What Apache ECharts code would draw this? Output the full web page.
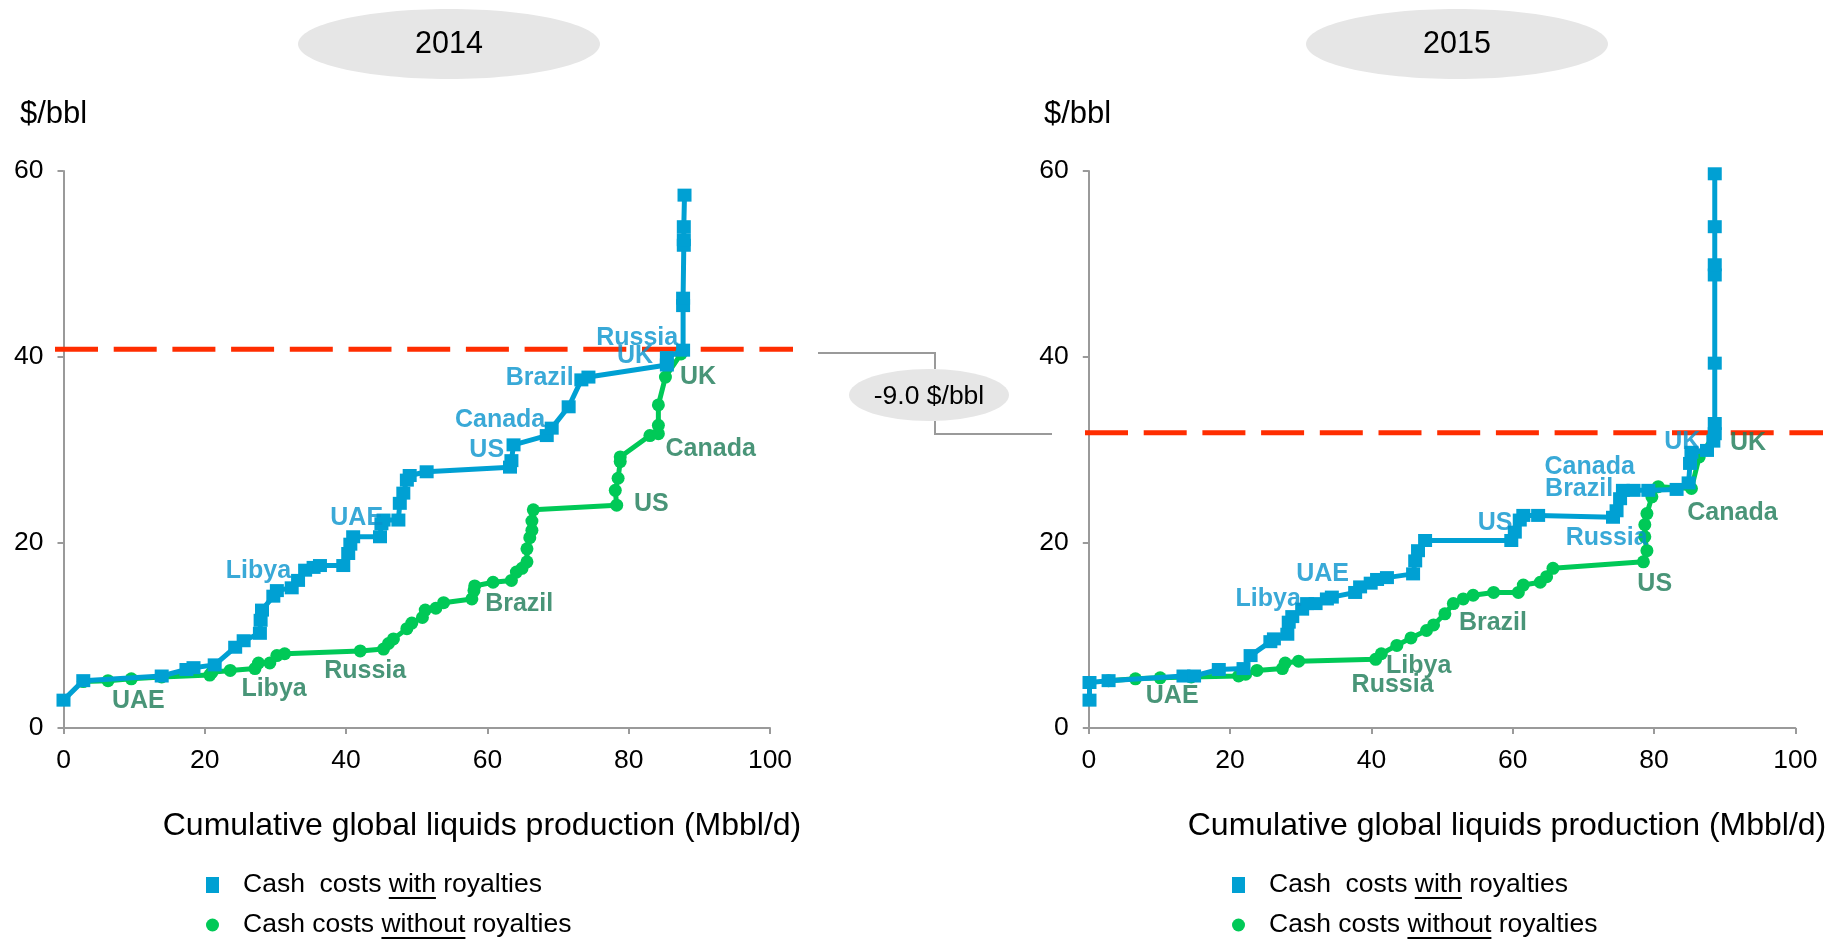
<!DOCTYPE html>
<html>
<head>
<meta charset="utf-8">
<script src="https://cdn.jsdelivr.net/npm/echarts@6/dist/echarts.min.js"></script>
<style>
  html, body { margin: 0; padding: 0; background: #ffffff; }
  #chart { width: 1843px; height: 940px; }
</style>
</head>
<body>
<div id="chart"></div>
<script>
// Cash cost curves: cumulative liquids production (Mbbl/d) vs cash cost ($/bbl)
const years = ['2014', '2015'];
const xTicks = [0, 20, 40, 60, 80, 100];
const yTicks = [0, 20, 40, 60];

// 2014 – cash costs with royalties [cumulative Mbbl/d, $/bbl]
const withRoyalties2014 = [
  [0, 3.0], [2.8, 5.1], [13.9, 5.6], [17.4, 6.3], [18.4, 6.5], [21.4, 6.8], [24.3, 8.7],
  [25.5, 9.4], [27.8, 10.2], [27.9, 11.6], [28.1, 12.7], [29.7, 14.2], [30.2, 14.8],
  [32.3, 15.1], [33.2, 15.9], [34.2, 17.0], [35.4, 17.3], [36.3, 17.5], [39.6, 17.5],
  [40.3, 18.8], [40.6, 19.8], [41.0, 20.6], [44.8, 20.6], [45.0, 22.0], [45.3, 22.4],
  [47.4, 22.4], [47.6, 24.2], [48.1, 25.3], [48.6, 26.7], [49.0, 27.2], [51.4, 27.6],
  [63.2, 28.1], [63.4, 28.8], [63.7, 30.5], [68.4, 31.5], [69.1, 32.3], [71.5, 34.6],
  [73.3, 37.5], [74.3, 37.8], [85.4, 39.1], [85.4, 39.9], [87.7, 40.7], [87.7, 45.5],
  [87.7, 46.3], [87.8, 52.0], [87.8, 52.6], [87.8, 54.0], [87.9, 57.4]
];
// 2014 – cash costs without royalties
const withoutRoyalties2014 = [
  [2.8, 5.0], [6.3, 5.1], [9.6, 5.3], [13.9, 5.5], [20.7, 5.7], [21.0, 6.0], [23.6, 6.2],
  [27.1, 6.4], [27.6, 7.0], [29.2, 7.0], [30.2, 7.8], [31.3, 8.0], [42.0, 8.3], [45.3, 8.5],
  [46.0, 9.1], [46.7, 9.6], [48.6, 10.7], [49.3, 11.3], [50.8, 11.9], [51.2, 12.7],
  [52.7, 12.9], [53.8, 13.5], [57.8, 13.9], [58.1, 14.8], [58.2, 15.3], [60.8, 15.7],
  [63.4, 15.9], [64.1, 16.8], [64.9, 17.2], [65.6, 17.9], [65.6, 19.3], [66.0, 20.5],
  [66.3, 21.3], [66.3, 22.3], [66.5, 23.5], [78.3, 24.0], [78.1, 25.6], [78.5, 26.9],
  [78.8, 28.7], [78.8, 29.2], [83.0, 31.5], [84.2, 31.7], [84.2, 32.6], [84.2, 34.8],
  [85.2, 37.8], [87.4, 40.3]
];
// 2015 – cash costs with royalties
const withRoyalties2015 = [
  [0.1, 3.0], [0.1, 4.9], [2.8, 5.1], [13.4, 5.6], [14.9, 5.6], [18.4, 6.3], [21.9, 6.4],
  [22.9, 7.8], [25.7, 9.3], [26.2, 9.6], [28.1, 10.1], [28.3, 11.4], [28.8, 12.0],
  [30.2, 12.8], [30.9, 13.4], [32.1, 13.4], [33.7, 13.9], [34.4, 14.1], [37.7, 14.6],
  [38.4, 15.2], [39.9, 15.6], [40.8, 16.0], [42.2, 16.2], [45.9, 16.6], [46.2, 18.0],
  [46.6, 19.1], [47.6, 20.2], [59.8, 20.2], [60.3, 21.1], [61.0, 22.4], [61.5, 22.9],
  [63.6, 22.9], [74.2, 22.7], [74.7, 23.4], [75.2, 24.7], [75.6, 25.6], [77.1, 25.6],
  [79.2, 25.6], [83.2, 25.7], [84.9, 26.4], [85.1, 28.5], [85.3, 29.7], [87.5, 29.9],
  [88.4, 30.9], [88.6, 31.7], [88.6, 32.8], [88.6, 39.3], [88.6, 48.8], [88.6, 49.9],
  [88.6, 54.0], [88.6, 59.7]
];
// 2015 – cash costs without royalties
const withoutRoyalties2015 = [
  [2.8, 5.1], [6.6, 5.3], [10.1, 5.4], [14.5, 5.5], [21.2, 5.6], [22.2, 5.8], [23.8, 6.2],
  [27.4, 6.4], [27.8, 7.0], [29.7, 7.2], [40.6, 7.4], [41.4, 8.0], [43.6, 8.9], [45.6, 9.7],
  [47.8, 10.5], [48.8, 11.1], [50.4, 12.3], [51.6, 13.4], [53.0, 13.9], [54.4, 14.3],
  [57.3, 14.6], [60.8, 14.6], [61.5, 15.4], [63.9, 15.7], [64.8, 16.3], [65.7, 17.2],
  [78.5, 17.9], [79.0, 19.1], [78.7, 20.6], [78.7, 21.9], [79.0, 23.1], [79.7, 24.9],
  [80.6, 26.0], [85.3, 25.8], [86.4, 29.2], [88.4, 31.4]
];

// Marginal cost reference level per year ($/bbl) and the change between them
const marginalCost = [40.8, 31.8];
const changeLabel = '-9.0 $/bbl';

// Country annotations [name, cumulative Mbbl/d, $/bbl]
const countriesWith2014 = [
  ['Libya', 27.6, 16.9], ['UAE', 41.5, 22.6], ['US', 59.9, 29.9], ['Canada', 61.8, 33.2],
  ['Brazil', 67.4, 37.7], ['UK', 80.9, 40.1], ['Russia', 81.2, 42.0]
];
const countriesWithout2014 = [
  ['UAE', 10.6, 2.9], ['Libya', 29.8, 4.2], ['Russia', 42.7, 6.1], ['Brazil', 64.5, 13.3],
  ['US', 83.2, 24.1], ['Canada', 91.6, 30.0], ['UK', 89.8, 37.8]
];
const countriesWith2015 = [
  ['Libya', 25.4, 13.9], ['UAE', 33.1, 16.6], ['US', 57.5, 22.1], ['Brazil', 69.4, 25.7],
  ['Canada', 70.9, 28.1], ['Russia', 73.3, 20.5], ['UK', 84.0, 30.8]
];
const countriesWithout2015 = [
  ['UAE', 11.8, 3.4], ['Russia', 43.0, 4.6], ['Libya', 46.7, 6.7], ['Brazil', 57.2, 11.3],
  ['US', 80.1, 15.5], ['Canada', 91.1, 23.2], ['UK', 93.3, 30.7]
];

const NAME_WITH = 'Cash  costs with royalties';
const NAME_WITHOUT = 'Cash costs without royalties';
const UNIT_Y = '$/bbl';
const TITLE_X = 'Cumulative global liquids production (Mbbl/d)';

// ---- styling ----
const FONT = '"Liberation Sans", Arial, Helvetica, sans-serif';
const BLUE = '#00a0d3';
const BLUE_TEXT = '#0894cd';
const GREEN = '#00c957';
const GREEN_TEXT = '#1b7b56';
const RED = '#ff2d00';
const AXIS_GREY = '#9a9a9a';
const PANEL_FILL = '#e6e6e6';

const panels = [
  { left: 63.5, refLeft: 55, legendLeft: 206, titleX: 482, unitX: 20, yearX: 449 },
  { left: 1088.8, refLeft: 1085, legendLeft: 1232, titleX: 1507, unitX: 1044, yearX: 1457 }
];
const PLOT_TOP = 171, PLOT_H = 557, PLOT_W = 706.5, REF_W = 738;

const grids = [], xAxes = [], yAxes = [];
panels.forEach((p, i) => {
  grids.push({ left: p.left, top: PLOT_TOP, width: PLOT_W, height: PLOT_H });
  xAxes.push({
    gridIndex: i, type: 'value', min: xTicks[0], max: xTicks[xTicks.length - 1],
    interval: xTicks[1] - xTicks[0],
    axisLine: { lineStyle: { color: AXIS_GREY, width: 2 } },
    axisTick: { show: true, length: 6, lineStyle: { color: AXIS_GREY, width: 2 } },
    axisLabel: { color: '#000', fontFamily: FONT, fontSize: 26.5, margin: 19 },
    splitLine: { show: false }
  });
  yAxes.push({
    gridIndex: i, type: 'value', min: yTicks[0], max: yTicks[yTicks.length - 1],
    interval: yTicks[1] - yTicks[0],
    axisLine: { show: true, lineStyle: { color: AXIS_GREY, width: 2 } },
    axisTick: { show: true, length: 6, lineStyle: { color: AXIS_GREY, width: 2 } },
    axisLabel: { color: '#000', fontFamily: FONT, fontSize: 26.5, margin: 20 },
    splitLine: { show: false }
  });
});
// Overlay grids carrying the dashed reference level, a little wider than the plots
panels.forEach((p, i) => {
  grids.push({ left: p.refLeft, top: PLOT_TOP, width: REF_W, height: PLOT_H });
  xAxes.push({ gridIndex: 2 + i, type: 'value', min: 0, max: 1, show: false });
  yAxes.push({ gridIndex: 2 + i, type: 'value', min: yTicks[0], max: yTicks[yTicks.length - 1], show: false });
});

function costLine(name, data, idx, isWith) {
  return {
    type: 'line', name, xAxisIndex: idx, yAxisIndex: idx, data,
    symbol: isWith ? 'rect' : 'circle',
    symbolSize: isWith ? [14, 13] : 13,
    showAllSymbol: true,
    itemStyle: { color: isWith ? BLUE : GREEN, borderWidth: 0 },
    lineStyle: { color: isWith ? BLUE : GREEN, width: 5 },
    z: isWith ? 4 : 3, silent: true
  };
}
function countryLabels(list, idx, color) {
  return {
    type: 'scatter', xAxisIndex: idx, yAxisIndex: idx,
    data: list.map(d => [d[1], d[2], d[0]]),
    symbolSize: 1, itemStyle: { color: 'rgba(0,0,0,0)' },
    label: {
      show: true, position: 'inside', formatter: p => p.value[2],
      color, fontFamily: FONT, fontSize: 25, fontWeight: 'bold'
    },
    z: 6, silent: true
  };
}
function referenceLevel(value, idx) {
  return {
    type: 'line', xAxisIndex: idx, yAxisIndex: idx, data: [[0, value], [1, value]],
    symbol: 'none', lineStyle: { color: RED, width: 5, type: [43, 15.7] }, z: 2, silent: true
  };
}

const series = [
  costLine(NAME_WITHOUT, withoutRoyalties2014, 0, false),
  costLine(NAME_WITH, withRoyalties2014, 0, true),
  costLine(NAME_WITHOUT, withoutRoyalties2015, 1, false),
  costLine(NAME_WITH, withRoyalties2015, 1, true),
  referenceLevel(marginalCost[0], 2),
  referenceLevel(marginalCost[1], 3),
  countryLabels(countriesWith2014, 0, BLUE_TEXT),
  countryLabels(countriesWithout2014, 0, GREEN_TEXT),
  countryLabels(countriesWith2015, 1, BLUE_TEXT),
  countryLabels(countriesWithout2015, 1, GREEN_TEXT)
];

const LEGEND_TOP = 871, LEGEND_ROW = 40, LEGEND_FONT = 26.5, ICON_W = 13, ICON_H = 16, TEXT_PAD = 19;
const legends = panels.map(p => ({
  left: p.legendLeft, top: LEGEND_TOP, orient: 'vertical', padding: 0,
  itemWidth: ICON_W, itemHeight: ICON_H, itemGap: LEGEND_ROW - 28, selectedMode: false,
  itemStyle: { borderWidth: 0 },
  textStyle: { color: '#000', fontFamily: FONT, fontSize: LEGEND_FONT, lineHeight: 28, padding: [0, 0, 0, TEXT_PAD] },
  data: [
    { name: NAME_WITH, icon: 'rect', itemStyle: { color: BLUE } },
    { name: NAME_WITHOUT, icon: 'circle', itemStyle: { color: GREEN } }
  ]
}));

// Underline the words "with" / "without" in the legend entries
const measure = document.createElement('canvas').getContext('2d');
measure.font = LEGEND_FONT + 'px ' + FONT;
function underline(x0, y, before, word) {
  return {
    type: 'rect',
    shape: { x: x0 + measure.measureText(before).width, y, width: measure.measureText(word).width, height: 2 },
    style: { fill: '#000' }, silent: true
  };
}

const graphic = [];
panels.forEach((p, i) => {
  graphic.push(
    { type: 'ellipse', shape: { cx: p.yearX, cy: 44, rx: 151, ry: 35 }, style: { fill: PANEL_FILL } },
    { type: 'text', x: p.yearX, y: 45, style: { text: years[i], font: '30.5px ' + FONT, fill: '#000', align: 'center', verticalAlign: 'middle' } },
    { type: 'text', x: p.unitX, y: 114, style: { text: UNIT_Y, font: '31px ' + FONT, fill: '#000', align: 'left', verticalAlign: 'middle' } },
    { type: 'text', x: p.titleX, y: 826, style: { text: TITLE_X, font: '32px ' + FONT, fill: '#000', align: 'center', verticalAlign: 'middle' } }
  );
  const tx = p.legendLeft + ICON_W + 5 + TEXT_PAD;
  graphic.push(underline(tx, LEGEND_TOP + 26, 'Cash  costs ', 'with'));
  graphic.push(underline(tx, LEGEND_TOP + LEGEND_ROW + 26, 'Cash costs ', 'without'));
});
// Bracket linking the two reference levels, with the change in the middle
graphic.push(
  { type: 'polyline', shape: { points: [[818, 353], [935, 353], [935, 369]] }, style: { stroke: AXIS_GREY, lineWidth: 2, fill: null } },
  { type: 'polyline', shape: { points: [[935, 421], [935, 434], [1052, 434]] }, style: { stroke: AXIS_GREY, lineWidth: 2, fill: null } },
  { type: 'ellipse', shape: { cx: 929, cy: 395, rx: 80, ry: 26 }, style: { fill: PANEL_FILL } },
  { type: 'text', x: 929, y: 397, style: { text: changeLabel, font: '26.5px ' + FONT, fill: '#000', align: 'center', verticalAlign: 'middle' } }
);

const chart = echarts.init(document.getElementById('chart'), null, { renderer: 'canvas' });
chart.setOption({
  backgroundColor: '#ffffff',
  animation: false,
  grid: grids,
  xAxis: xAxes,
  yAxis: yAxes,
  legend: legends,
  series,
  graphic
});
</script>
</body>
</html>
